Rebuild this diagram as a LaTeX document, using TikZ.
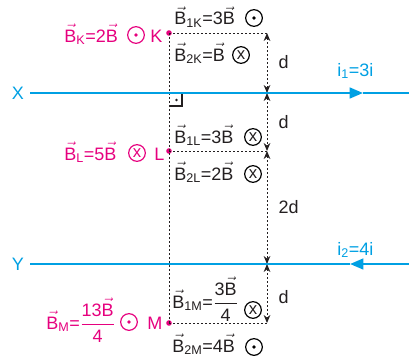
\documentclass[tikz,border=0pt]{standalone}
\usepackage{amsmath}
\usepackage{fontspec}
\setmainfont{Liberation Sans}
\usetikzlibrary{arrows.meta,positioning}
\definecolor{fieldmag}{RGB}{230,0,126}
\definecolor{wirecyan}{RGB}{0,160,227}
\definecolor{inkgray}{RGB}{35,31,32}
\newcommand{\vB}{\ensuremath{\vec{\text{B}}}}

\begin{document}
\begin{tikzpicture}[x=0.75pt, y=-0.75pt, font=\fontsize{13.5}{16}\selectfont, text=inkgray,
    wire/.style={wirecyan, line width=1.8pt},
    guide/.style={inkgray, dash pattern=on 1.6pt off 1.4pt, line width=0.7pt},
    dim/.style={guide, {Stealth[length=6pt,width=5pt]}-{Stealth[length=6pt,width=5pt]}},
    pnt/.style={circle, fill=fieldmag, inner sep=0pt, minimum size=4.2pt},
    outsym/.style={circle, draw, line width=0.9pt, inner sep=0pt, minimum size=12.5pt,
        path picture={\fill (path picture bounding box.center) circle (1.4pt);}},
    insym/.style={circle, draw, line width=0.9pt, inner sep=0pt, minimum size=12.5pt, font=\fontsize{12.5}{14}\selectfont},
    lbl/.style={anchor=base west, inner sep=0pt}]
    \useasboundingbox (0,0) rectangle (409,360);

    % Points
    \node[pnt] (K) at (169,33) {};
    \node[pnt] (L) at (169,151) {};
    \node[pnt] (M) at (169,323) {};

    % Dimension line
    \coordinate (dK) at (267,33);
    \coordinate (dX) at (267,93);
    \coordinate (dL) at (267,151);
    \coordinate (dY) at (267,264);
    \coordinate (dM) at (267,323);

    % Wires
    \coordinate (xa) at (30,93);
    \coordinate (xm) at (363,93);
    \coordinate (xb) at (409,93);
    \coordinate (ya) at (30,264);
    \coordinate (ym) at (350,264);
    \coordinate (yb) at (409,264);

    % Guides
    \draw[guide] (K.center) -- (M.center);
    \draw[guide] (K.center) -- (dK);
    \draw[guide] (L.center) -- (dL);
    \draw[guide] (M.center) -- (dM);
    \draw[dim] (dK) -- (dX);
    \draw[dim] (dX) -- (dL);
    \draw[dim] (dL) -- (dY);
    \draw[dim] (dY) -- (dM);
    \node[anchor=west] (d1) at (274,62) {d};
    \node[anchor=west] (d2) at (274,122) {d};
    \node[anchor=west] (d3) at (274,207) {2d};
    \node[anchor=west] (d4) at (274,297) {d};

    % Right angle
    \coordinate (ra) at (170,93);
    \draw[inkgray, line width=0.8pt] (ra) ++(0,13) -- ++(12,0) -- ++(0,-13);
    \fill[inkgray] (176.5,100) circle (1.1pt);

    % Currents
    \draw[wire, -{Triangle[length=10pt,width=8pt]}] (xa) -- (xm);
    \draw[wire] (xm) -- (xb);
    \draw[wire, -{Triangle[length=10pt,width=8pt]}] (yb) -- (ym);
    \draw[wire] (ym) -- (ya);
    \node[text=wirecyan] (X) at (18,93) {X};
    \node[text=wirecyan] (Y) at (18,264) {Y};
    \node[lbl, text=wirecyan] (i1) at (337,76) {i\textsubscript{1}=3i};
    \node[lbl, text=wirecyan] (i2) at (337,255) {i\textsubscript{2}=4i};

    % Field at K
    \node[lbl] (B1K) at (174,25) {\vB\textsubscript{1K}=3\vB};
    \node[outsym] (s1K) at (254,18) {};
    \node[lbl] (B2K) at (174,61) {\vB\textsubscript{2K}=\vB};
    \node[insym] (s2K) at (241,55) {x};
    \node[lbl, text=fieldmag] (BK) at (64,42) {\vB\textsubscript{K}=2\vB};
    \node[outsym, draw=fieldmag, path picture={\fill[fieldmag] (path picture bounding box.center) circle (1.4pt);}] (sK) at (136,35) {};
    \node[lbl, text=fieldmag] (Kl) at (150,42) {K};

    % Field at L
    \node[lbl] (B1L) at (174,143) {\vB\textsubscript{1L}=3\vB};
    \node[insym] (s1L) at (253,137) {x};
    \node[lbl, text=fieldmag] (BL) at (64,160) {\vB\textsubscript{L}=5\vB};
    \node[insym, draw=fieldmag, text=fieldmag] (sL) at (137,153) {x};
    \node[lbl, text=fieldmag] (Ll) at (154,160) {L};
    \node[lbl] (B2L) at (174,180) {\vB\textsubscript{2L}=2\vB};
    \node[insym] (s2L) at (253,174) {x};

    % Field at M
    \node[lbl] (B1M) at (172,308) {\vB\textsubscript{1M}=$\dfrac{\text{3}\vec{\text{B}}}{\text{4}}$};
    \node[insym] (s1M) at (253,310) {x};
    \node[lbl] (B2M) at (172,352) {\vB\textsubscript{2M}=4\vB};
    \node[outsym] (s2M) at (254,347) {};
    \node[lbl, text=fieldmag] (BM) at (46,329) {\vB\textsubscript{M}=$\dfrac{\text{13}\vec{\text{B}}}{\text{4}}$};
    \node[outsym, draw=fieldmag, path picture={\fill[fieldmag] (path picture bounding box.center) circle (1.4pt);}] (sM) at (129,322) {};
    \node[lbl, text=fieldmag] (Ml) at (147,329) {M};
\end{tikzpicture}
\end{document}
